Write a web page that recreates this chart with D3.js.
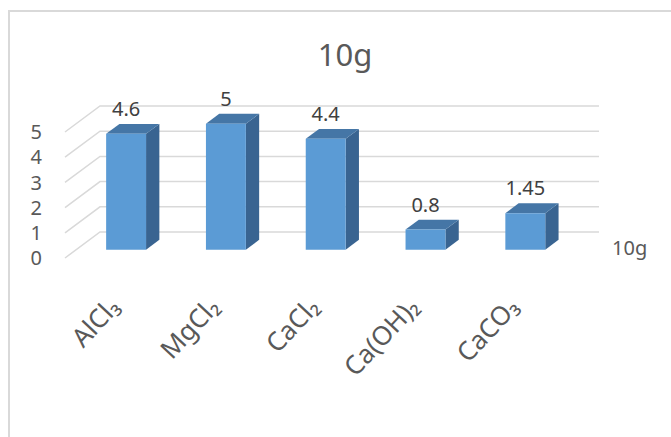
<!DOCTYPE html>
<html>
<head>
<meta charset="utf-8">
<script src="https://cdn.jsdelivr.net/npm/d3@7"></script>
<style>
  body { margin: 0; background: #fff; }
  text { font-family: "Noto Sans", "Open Sans", sans-serif; }
</style>
</head>
<body>
<div id="chart"></div>
<script>
// data
var categories = ["AlCl₃", "MgCl₂", "CaCl₂", "Ca(OH)₂", "CaCO₃"];
var values = [4.6, 5, 4.4, 0.8, 1.45];
var yTicks = [0, 1, 2, 3, 4, 5];
var seriesName = "10g";
var chartTitle = "10g";

var width = 671, height = 437;

var svg = d3.select('#chart')
  .append("svg")
  .attr("width", width)
  .attr("height", height);

// chart border
svg.append("rect")
  .attr("x", 9).attr("y", 11)
  .attr("width", 700).attr("height", 500)
  .attr("fill", "none")
  .attr("stroke", "#d9d9d9")
  .attr("stroke-width", 2);

// front plane scales, depth goes up-right
var depthX = 35, depthY = -26;
var y = d3.scaleLinear().domain([0, 5]).range([258, 132]);
var x = d3.scaleBand()
  .domain(categories)
  .range([65, 564])
  .paddingInner(0.6)
  .paddingOuter(0.3);

var zFront = 0.32, zBack = 0.70;
function pt(px, v, z) { return [px + z * depthX, y(v) + z * depthY]; }

// gridlines: left wall slant + back wall
var grid = svg.append("g")
  .attr("stroke", "#d9d9d9")
  .attr("stroke-width", 1.5)
  .attr("fill", "none");

grid.selectAll("path")
  .data(yTicks)
  .enter()
  .append("path")
  .attr("d", function(t) {
    var a = pt(x.range()[0], t, 0), b = pt(x.range()[0], t, 1), c = pt(x.range()[1], t, 1);
    return "M" + a + "L" + b + "L" + c;
  });

// y axis labels
svg.append("g")
  .selectAll("text")
  .data(yTicks)
  .enter()
  .append("text")
  .attr("x", 42)
  .attr("y", function(t) { return y(t); })
  .attr("dy", "0.36em")
  .attr("text-anchor", "end")
  .style("font-size", "20px")
  .style("fill", "#595959")
  .text(function(t) { return t; });

// bars
var bars = svg.append("g")
  .selectAll("g")
  .data(categories.map(function(c, i) { return { key: c, value: values[i] }; }))
  .enter()
  .append("g");

function poly(ps) { return "M" + ps.join("L") + "Z"; }

// side face
bars.append("path")
  .attr("fill", "#396491")
  .attr("d", function(d) {
    var r = x(d.key) + x.bandwidth();
    return poly([pt(r, 0, zFront), pt(r, 0, zBack), pt(r, d.value, zBack), pt(r, d.value, zFront)]);
  });

// top face
bars.append("path")
  .attr("fill", "#4576a6")
  .attr("d", function(d) {
    var l = x(d.key), r = l + x.bandwidth();
    return poly([pt(l, d.value, zFront), pt(l, d.value, zBack), pt(r, d.value, zBack), pt(r, d.value, zFront)]);
  });

// front face
bars.append("path")
  .attr("fill", "#5b9bd5")
  .attr("d", function(d) {
    var l = x(d.key), r = l + x.bandwidth();
    return poly([pt(l, 0, zFront), pt(r, 0, zFront), pt(r, d.value, zFront), pt(l, d.value, zFront)]);
  });

// value labels
bars.append("text")
  .attr("x", function(d) { return x(d.key) + x.bandwidth() / 2 + zFront * depthX; })
  .attr("y", function(d) { return pt(0, d.value, zBack)[1] - 8; })
  .attr("text-anchor", "middle")
  .style("font-size", "20px")
  .style("fill", "#404040")
  .text(function(d) { return d.value; });

// category labels, rotated
svg.append("g")
  .selectAll("text")
  .data(categories)
  .enter()
  .append("text")
  .attr("transform", function(c) {
    var cx = x(c) + x.bandwidth() / 2 + zFront * depthX;
    return "translate(" + (cx - 5) + ",308) rotate(-47)";
  })
  .attr("text-anchor", "end")
  .style("font-size", "26px")
  .style("fill", "#595959")
  .text(function(c) { return c; });

// title
svg.append("text")
  .attr("x", 345).attr("y", 66)
  .attr("text-anchor", "middle")
  .style("font-size", "31px")
  .style("fill", "#595959")
  .text(chartTitle);

// legend (no swatch visible)
svg.append("text")
  .attr("x", 612).attr("y", 255)
  .style("font-size", "20px")
  .style("fill", "#595959")
  .text(seriesName);
</script>
</body>
</html>
